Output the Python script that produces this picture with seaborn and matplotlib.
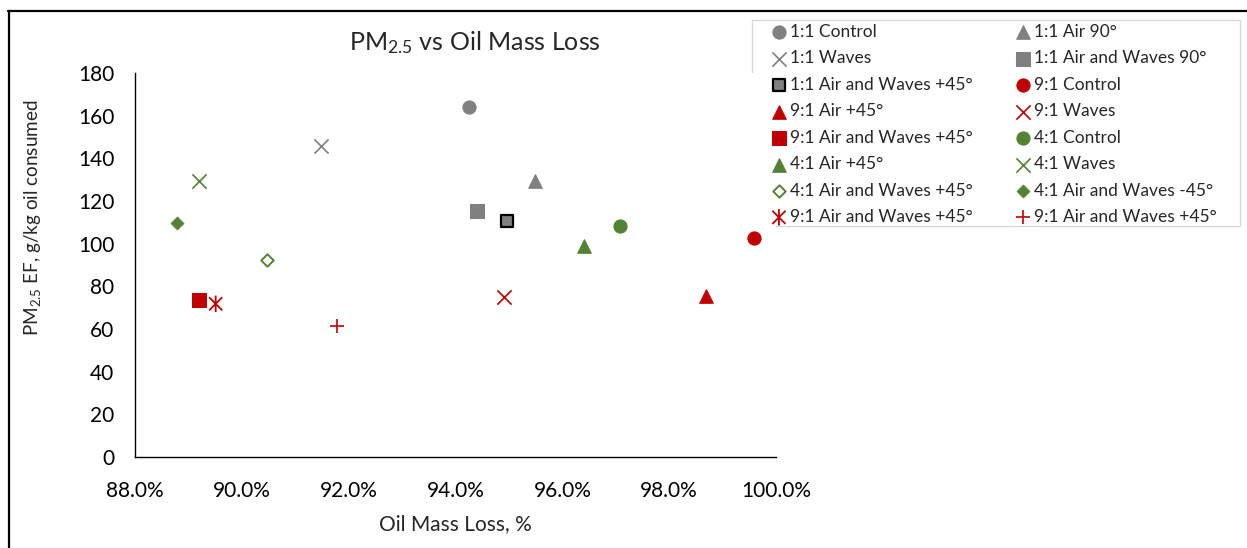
import matplotlib
matplotlib.use("Agg")
import matplotlib.pyplot as plt
from matplotlib.lines import Line2D
from matplotlib.patches import Rectangle
from matplotlib.path import Path
from matplotlib.ticker import FuncFormatter, MultipleLocator
import seaborn as sns
import pandas as pd

# Series, one point each, listed row by row as they appear in the legend
labels = [
    "1:1 Control", "1:1 Air 90°",
    "1:1 Waves", "1:1 Air and Waves 90°",
    "1:1 Air and Waves +45°", "9:1 Control",
    "9:1 Air +45°", "9:1 Waves",
    "9:1 Air and Waves +45°", "4:1 Control",
    "4:1 Air +45°", "4:1 Waves",
    "4:1 Air and Waves +45°", "4:1 Air and Waves -45°",
    "9:1 Air and Waves +45°", "9:1 Air and Waves +45°",
]
oil_mass_loss = [94.25, 95.49, 91.48, 94.40, 94.96, 99.58, 98.69, 94.90,
                 89.20, 97.08, 96.41, 89.20, 90.48, 88.79, 89.51, 91.79]
pm25_ef = [164.0, 129.2, 146.0, 115.5, 110.6, 102.8, 75.6, 75.2,
           73.8, 108.4, 98.8, 129.4, 92.4, 109.8, 71.8, 61.2]

GRAY = "#808080"
RED = "#C00000"
GREEN = "#548235"

W, H = 1247, 548

# asterisk: an X with a vertical stroke
star_path = Path(
    [(-1, -1), (1, 1), (-1, 1), (1, -1), (0, -1.25), (0, 1.25)],
    [Path.MOVETO, Path.LINETO, Path.MOVETO, Path.LINETO, Path.MOVETO, Path.LINETO],
)

styles = [
    dict(marker="o", color=GRAY, edgecolor=GRAY, s=90),
    dict(marker="^", color=GRAY, edgecolor=GRAY, s=95),
    dict(marker="x", color=GRAY, s=105, linewidths=1.2),
    dict(marker="s", color=GRAY, edgecolor=GRAY, s=90),
    dict(marker="s", color=GRAY, edgecolor="black", s=78, linewidths=1.6),
    dict(marker="o", color=RED, edgecolor=RED, s=90),
    dict(marker="^", color=RED, edgecolor=RED, s=95),
    dict(marker="x", color=RED, s=105, linewidths=1.2),
    dict(marker="s", color=RED, edgecolor=RED, s=90),
    dict(marker="o", color=GREEN, edgecolor=GREEN, s=90),
    dict(marker="^", color=GREEN, edgecolor=GREEN, s=95),
    dict(marker="x", color=GREEN, s=105, linewidths=1.2),
    dict(marker="D", color="white", edgecolor=GREEN, s=40, linewidths=1.4),
    dict(marker="D", color=GREEN, edgecolor=GREEN, s=44),
    dict(marker=star_path, color=RED, facecolor="none", edgecolor=RED, s=140, linewidths=1.3),
    dict(marker="+", color=RED, s=115, linewidths=1.2),
]

sns.set_theme(style="white")
plt.rcParams["font.family"] = ["Lato", "DejaVu Sans"]
plt.rcParams["mathtext.fontset"] = "custom"
plt.rcParams["mathtext.rm"] = "Lato"
plt.rcParams["mathtext.it"] = "Lato"

fig = plt.figure(figsize=(W / 100, H / 100), dpi=100)
ax = fig.add_axes([135 / W, 1 - 457 / H, 641 / W, 384 / H])

handles = []
for i in range(len(labels)):
    df = pd.DataFrame({"x": [oil_mass_loss[i]], "y": [pm25_ef[i]]})
    sns.scatterplot(data=df, x="x", y="y", ax=ax, legend=False, zorder=3, **styles[i])
    handles.append(ax.collections[-1])

ax.set_xlim(88, 100)
ax.set_ylim(0, 180)
ax.xaxis.set_major_locator(MultipleLocator(2))
ax.yaxis.set_major_locator(MultipleLocator(20))
ax.xaxis.set_major_formatter(FuncFormatter(lambda v, p: f"{v:.1f}%"))

for side in ("top", "right"):
    ax.spines[side].set_visible(False)
for side in ("left", "bottom"):
    ax.spines[side].set_color("black")
    ax.spines[side].set_linewidth(1.0)
ax.tick_params(axis="both", which="major", direction="out", length=5, width=1.0,
               color="black", labelsize=15, labelcolor="#000000")
ax.tick_params(axis="x", pad=12.5)
ax.tick_params(axis="y", pad=10)
ax.set_xlabel("Oil Mass Loss, %", fontsize=15, labelpad=9)
ax.set_ylabel("")

fig.text(33 / W, 1 - 218 / H, "PM$_{2.5}$ EF, g/kg oil consumed", rotation=90,
         ha="center", va="center", fontsize=13.6)
fig.text(0.381, 0.923, "PM$_{2.5}$ vs Oil Mass Loss", ha="center", va="center", fontsize=18)

# legend: two columns filled row by row, frame drawn separately
order = list(range(0, len(labels), 2)) + list(range(1, len(labels), 2))
leg = fig.legend([handles[k] for k in order], [labels[k] for k in order],
                 ncol=2, loc="upper left", bbox_to_anchor=(772 / W, 1 - 24 / H),
                 fontsize=12.5, frameon=False, borderpad=0, borderaxespad=0,
                 handlelength=0.8, handletextpad=0.24, columnspacing=2.48,
                 labelspacing=0.6, markerscale=1.0)
fig.add_artist(Rectangle((752 / W, 1 - 226 / H), 488 / W, 206 / H,
                         transform=fig.transFigure, facecolor="none",
                         edgecolor="#D9D9D9", linewidth=1.0, zorder=0))

# chart frame along the top and left edges
fig.add_artist(Line2D([8 / W, 1.0], [1 - 11 / H, 1 - 11 / H],
                      transform=fig.transFigure, color="black", linewidth=1.6))
fig.add_artist(Line2D([9 / W, 9 / W], [0.0, 1 - 11 / H],
                      transform=fig.transFigure, color="black", linewidth=1.6))

fig.savefig("out.png", dpi=100)
